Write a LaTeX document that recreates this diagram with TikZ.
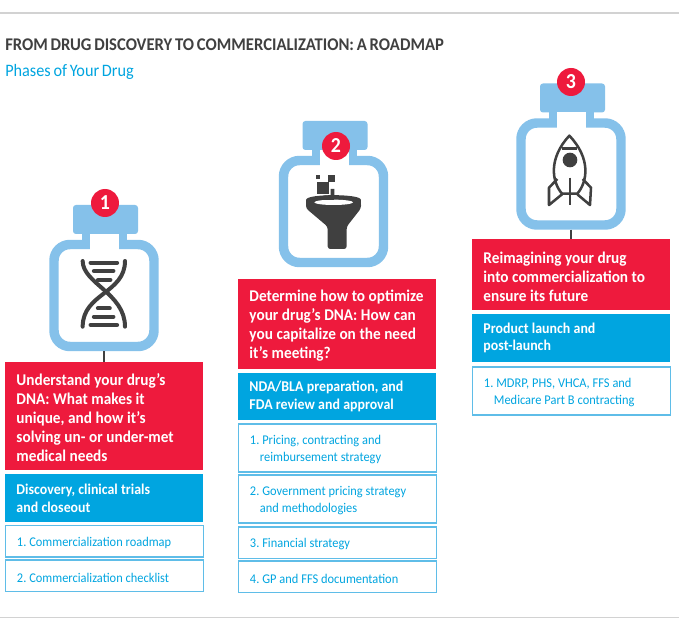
\documentclass[tikz,border=0pt]{standalone}
\usepackage{fontspec}
\setmainfont{Carlito}[WordSpace=0.75,FakeStretch=0.93]
\definecolor{redb}{HTML}{EE1A3D}
\definecolor{blueb}{HTML}{00A5E0}
\definecolor{bottle}{HTML}{85C1EA}
\definecolor{ink}{HTML}{404040}
\definecolor{rulec}{HTML}{D2D2D2}
\definecolor{thin}{HTML}{5FBDE8}
\tikzset{
 boxbase/.style={anchor=north west,inner xsep=8.6pt,inner ysep=0pt,text width=131.3pt,align=left,outer sep=0pt},
 redbox/.style={boxbase,fill=redb,text=white,font=\fontsize{12.3}{14.25}\selectfont\bfseries,execute at begin node=\rule{0pt}{.95em}},
 bluebox/.style={boxbase,fill=blueb,text=white,font=\fontsize{11.2}{13.3}\selectfont\bfseries},
 whitebox/.style={boxbase,draw=thin,line width=.9pt,text=blueb,font=\fontsize{10}{12.4}\selectfont,execute at begin node=\rule{0pt}{.95em}},
 badge/.style={circle,fill=redb,text=white,inner sep=0pt,minimum size=21pt,font=\fontsize{16}{16}\selectfont\bfseries},
 flask/.style={draw=bottle,rounded corners=12pt,line width=7.1pt,minimum width=75pt,minimum height=76.5pt,inner sep=0pt,fill=white,outer sep=3.55pt},
 link/.style={draw=ink,line width=1.1pt},
 icon/.style={draw=ink,line width=1.9pt},
 rung/.style={draw=ink,line width=3.2pt,line cap=round},
 titletext/.style={anchor=west,inner sep=0pt}
}
\newcommand{\bx}[6]{\node[#1,minimum height=#5*.75pt] (#2) at (#3,#4) {\spaceskip=.22em\xspaceskip=.22em #6};}
\newcommand{\drawbottle}[3]{%
 \begin{scope}[shift={(#2,#3)}]
  \fill[bottle,rounded corners=2.2pt] (73,205) rectangle (138,234);
  \fill[bottle] (82,232) rectangle (127,244);
  \node[flask] (body#1) at (104,295.5) {};
  \fill[white] (90,234) rectangle (119,250);
 \end{scope}}
\begin{document}
\begin{tikzpicture}[x=.75pt,y=-.75pt]
\useasboundingbox (0,0) rectangle (679,631);
\fill[white] (0,0) rectangle (679,631);
\coordinate (ruleAl) at (0,13);\coordinate (ruleAr) at (679,13);
\coordinate (ruleBl) at (0,617.5);\coordinate (ruleBr) at (679,617.5);
\draw[rulec,line width=1.4pt] (ruleAl) -- (ruleAr);
\draw[rulec,line width=1.4pt] (ruleBl) -- (ruleBr);
\node[titletext,text=ink,font=\fontsize{13.4}{14}\selectfont\bfseries] (title) at (5,45) {FROM DRUG DISCOVERY TO COMMERCIALIZATION: A ROADMAP};
\node[titletext,text=blueb,font=\fontsize{13.1}{14}\selectfont] (sub) at (5,72) {Phases of Your Drug};

\drawbottle{1}{0}{0}
\drawbottle{2}{229.5}{-84}
\drawbottle{3}{467}{-121.5}

% column 1
\bx{redbox}{r1}{5}{362}{108}{Understand your drug's\\DNA: What makes it\\unique, and how it's\\solving un- or under-met\\medical needs}
\bx{bluebox}{b1}{5}{474}{48}{Discovery, clinical trials\\and closeout}
\bx{whitebox}{w11}{5.5}{525.5}{31.5}{1. Commercialization roadmap}
\bx{whitebox}{w12}{5.5}{560}{31.5}{2. Commercialization checklist}
% column 2
\bx{redbox}{r2}{238}{279}{90}{\mbox{Determine how to optimize}\\\mbox{your drug's DNA: How can}\\\mbox{you capitalize on the need}\\it's meeting?}
\bx{bluebox}{b2}{238}{373}{47}{\mbox{NDA/BLA preparation, and}\\FDA review and approval}
\bx{whitebox}{w21}{238.5}{424}{48}{1. Pricing, contracting and\\\hspace*{7.5pt}reimbursement strategy}
\bx{whitebox}{w22}{238.5}{475}{48}{\mbox{2. Government pricing strategy}\\\hspace*{7.5pt}and methodologies}
\bx{whitebox}{w23}{238.5}{527}{31.5}{3. Financial strategy}
\bx{whitebox}{w24}{238.5}{561}{31.5}{4. GP and FFS documentation}
% column 3
\bx{redbox}{r3}{472}{239}{71}{Reimagining your drug\\\mbox{into commercialization to}\\ensure its future}
\bx{bluebox}{b3}{472}{314}{48}{Product launch and\\post-launch}
\bx{whitebox}{w31}{472.5}{367}{48}{\mbox{1. MDRP, PHS, VHCA, FFS and}\\\hspace*{7.5pt}Medicare Part B contracting}

\draw[link] (body1.south) -- (r1.north -| body1.south);
\draw[link] (body3.south) -- (r3.north -| body3.south);

\node[badge] (n1) at (105,203) {1};
\node[badge] (n2) at (336,146) {2};
\node[badge] (n3) at (571,82) {3};

% DNA icon
\begin{scope}[shift={(30,180)},x=.25pt,y=-.25pt]
 \draw[icon,line width=3pt,line cap=round] (158,243) .. controls (158,310) and (285,340) .. (285,440);
 \draw[icon,line width=3pt,line cap=round] (285,243) .. controls (285,340) and (158,340) .. (158,440);
 \foreach \a/\b/\yy in {182/261/248,192/250/273,204/241/300,204/239/385,192/250/410,182/261/435}
   \draw[rung] (\a,\yy) -- (\b,\yy);
\end{scope}

% funnel icon
\begin{scope}[shift={(265,115)},x=.25pt,y=-.25pt]
 \fill[ink] (152,180) rectangle (165,192);
 \fill[ink] (190,180) rectangle (211,200);
 \fill[ink] (157,200) rectangle (192,238);
 \fill[ink] (197,222) -- (208,222) -- (208,250) -- (178,250) -- (178,241) -- (197,241) -- cycle;
 \fill[ink,rounded corners=2pt] (123,262) .. controls (125,236) and (286,236) .. (288,262) -- (288,280) -- (245,335) -- (245,402) -- (188,402) -- (188,335) -- (123,280) -- cycle;
 \fill[white] (206,262) ellipse [x radius=58,y radius=8];
 \fill[ink] (178,246) rectangle (208,254);
\end{scope}

% rocket icon
\begin{scope}[shift={(500,75)},x=.25pt,y=-.25pt]
 \draw[icon,line join=round] (208,182) .. controls (145,250) and (155,320) .. (186,356) -- (232,356) .. controls (263,320) and (273,250) .. (208,182) -- cycle;
 \draw[icon,line join=round] (186,220) -- (232,220);
 \fill[ink] (210,255) circle (22);
 \draw[icon] (210,308) -- (210,390);
 \draw[icon,line join=round] (172,312) -- (147,338) -- (147,390) -- (186,358);
 \draw[icon,line join=round] (248,312) -- (273,338) -- (270,390) -- (232,358);
\end{scope}
\end{tikzpicture}
\end{document}
